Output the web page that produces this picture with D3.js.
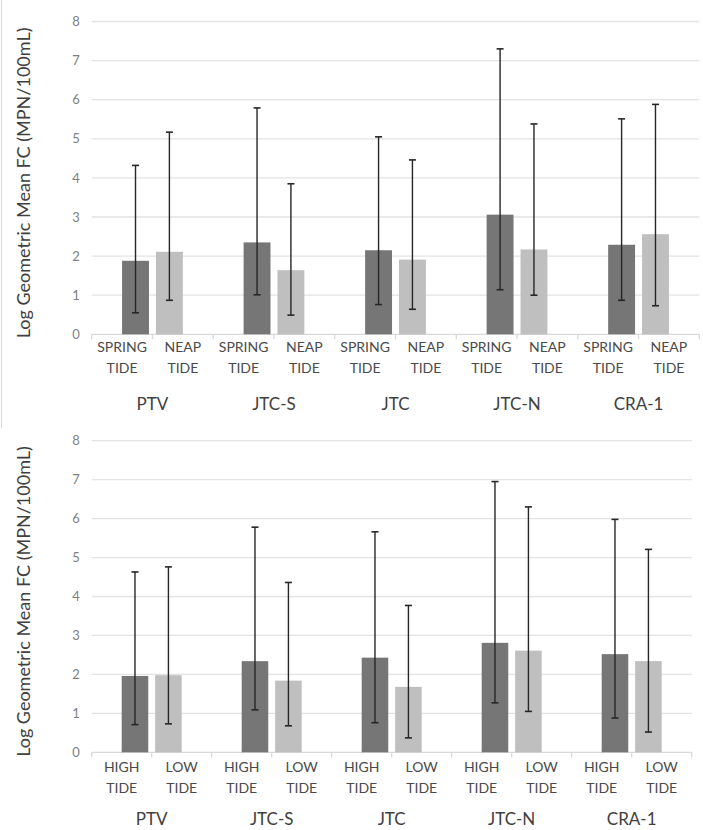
<!DOCTYPE html>
<html>
<head>
<meta charset="utf-8">
<script src="https://cdn.jsdelivr.net/npm/d3@7"></script>
<style>
  html, body { margin: 0; padding: 0; background: #fff; }
  svg { display: block; font-family: Lato, "Open Sans", sans-serif; }
</style>
</head>
<body>
<svg id="chart" width="703" height="830"></svg>
<script>
// ---------- data ----------
const sites = ["PTV", "JTC-S", "JTC", "JTC-N", "CRA-1"];
const yTicks = [0, 1, 2, 3, 4, 5, 6, 7, 8];
const yTitle = "Log Geometric Mean FC (MPN/100mL)";

// Top panel: spring vs neap tide
const topLabels = [["SPRING", "TIDE"], ["NEAP", "TIDE"]];
const springMean = [1.88, 2.35, 2.15, 3.06, 2.29];
const springLow  = [0.55, 1.01, 0.76, 1.14, 0.87];
const springHigh = [4.32, 5.79, 5.05, 7.30, 5.51];
const neapMean   = [2.11, 1.64, 1.91, 2.17, 2.56];
const neapLow    = [0.87, 0.49, 0.64, 1.00, 0.73];
const neapHigh   = [5.17, 3.85, 4.46, 5.38, 5.88];

// Bottom panel: high vs low tide
const botLabels = [["HIGH", "TIDE"], ["LOW", "TIDE"]];
const highMean = [1.96, 2.34, 2.43, 2.81, 2.52];
const highLow  = [0.71, 1.09, 0.76, 1.27, 0.88];
const highHigh = [4.63, 5.78, 5.66, 6.95, 5.98];
const lowMean  = [1.98, 1.84, 1.68, 2.61, 2.34];
const lowLow   = [0.73, 0.68, 0.37, 1.05, 0.52];
const lowHigh  = [4.76, 4.36, 3.77, 6.30, 5.21];

// ---------- drawing ----------
const svg = d3.select("#chart");
svg.append("rect").attr("width", 703).attr("height", 830).attr("fill", "#fff");

// frame edge of top panel
svg.append("line").attr("x1", 1.5).attr("x2", 1.5).attr("y1", 0).attr("y2", 428)
  .attr("stroke", "#d9d9d9").attr("stroke-width", 1);

const DARK = "#767676", LIGHT = "#bfbfbf";

function panel(cfg) {
  const g = svg.append("g");
  const y = d3.scaleLinear().domain([0, 8]).range([cfg.y0, cfg.y8]);
  const subcats = [];
  sites.forEach((s, i) => { subcats.push(s + "|0"); subcats.push(s + "|1"); });
  const x = d3.scaleBand().domain(subcats).range([cfg.x0, cfg.x1]).paddingInner(0).paddingOuter(0);
  const slot = d3.scaleBand().domain(["a", "b"]).range([0, x.bandwidth()]).paddingInner(0).paddingOuter(0.13);

  // gridlines
  g.selectAll(".grid").data(yTicks.filter(t => t > 0)).join("line")
    .attr("x1", cfg.x0).attr("x2", cfg.x1)
    .attr("y1", d => y(d)).attr("y2", d => y(d))
    .attr("stroke", "#e3e3e3").attr("stroke-width", 1.3);

  // y axis labels
  const ax = g.append("g").attr("transform", `translate(${cfg.x0 - 12},0)`)
    .call(d3.axisLeft(y).tickValues(yTicks).tickSize(0).tickPadding(0).tickFormat(d3.format("d")));
  ax.select(".domain").remove();
  ax.selectAll("text").attr("fill", "#808080").style("font-size", "13px")
    .style("font-family", "Lato, 'Open Sans', sans-serif");

  // baseline
  g.append("line").attr("x1", cfg.x0).attr("x2", cfg.x1).attr("y1", y(0)).attr("y2", y(0))
    .attr("stroke", "#d9d9d9").attr("stroke-width", 1.3);
  // category tick marks
  const bounds = subcats.map(c => x(c)).concat([cfg.x1]);
  g.selectAll(".tk").data(bounds).join("line")
    .attr("x1", d => d).attr("x2", d => d).attr("y1", y(0)).attr("y2", y(0) + 5)
    .attr("stroke", "#d9d9d9").attr("stroke-width", 1.3);

  // bars: dark series in first subcategory (slot b), light series in second (slot a)
  const rows = [];
  sites.forEach((s, i) => {
    rows.push({ cat: s + "|0", slot: "b", v: cfg.darkMean[i], lo: cfg.darkLow[i], hi: cfg.darkHigh[i], fill: DARK });
    rows.push({ cat: s + "|1", slot: "a", v: cfg.lightMean[i], lo: cfg.lightLow[i], hi: cfg.lightHigh[i], fill: LIGHT });
  });
  g.selectAll(".bar").data(rows).join("rect")
    .attr("x", d => x(d.cat) + slot(d.slot))
    .attr("width", slot.bandwidth())
    .attr("y", d => y(d.v))
    .attr("height", d => y(0) - y(d.v))
    .attr("fill", d => d.fill);

  // error bars
  const eb = g.selectAll(".eb").data(rows).join("g")
    .attr("transform", d => `translate(${x(d.cat) + slot(d.slot) + slot.bandwidth() / 2},0)`);
  eb.append("line").attr("y1", d => y(d.lo)).attr("y2", d => y(d.hi))
    .attr("stroke", "#262626").attr("stroke-width", 1.4);
  eb.append("line").attr("x1", -3.5).attr("x2", 3.5).attr("y1", d => y(d.hi)).attr("y2", d => y(d.hi))
    .attr("stroke", "#262626").attr("stroke-width", 1.6);
  eb.append("line").attr("x1", -3.5).attr("x2", 3.5).attr("y1", d => y(d.lo)).attr("y2", d => y(d.lo))
    .attr("stroke", "#262626").attr("stroke-width", 1.6);

  // subcategory labels (two lines)
  const lab = g.selectAll(".sub").data(subcats).join("text")
    .attr("text-anchor", "middle")
    .attr("fill", "#4a4a4a").style("font-size", "14px");
  lab.each(function (c) {
    const idx = +c.split("|")[1];
    const lines = cfg.labels[idx];
    const t = d3.select(this);
    const cx = x(c) + x.bandwidth() / 2;
    t.append("tspan").attr("x", cx).attr("y", cfg.lab1).text(lines[0]);
    t.append("tspan").attr("x", cx).attr("y", cfg.lab2).text(lines[1]);
  });

  // site labels
  g.selectAll(".site").data(sites).join("text")
    .attr("x", s => x(s + "|1"))
    .attr("y", cfg.siteY)
    .attr("text-anchor", "middle")
    .attr("fill", "#404040").style("font-size", "17px")
    .text(s => s);

  // y title
  const cy = (cfg.y0 + cfg.y8) / 2 + 5;
  g.append("text")
    .attr("transform", `translate(30,${cy}) rotate(-90)`)
    .attr("text-anchor", "middle")
    .attr("fill", "#404040").style("font-size", "18px")
    .text(yTitle);
}

panel({
  y0: 334.3, y8: 21.5, x0: 91.7, x1: 699.3,
  darkMean: springMean, darkLow: springLow, darkHigh: springHigh,
  lightMean: neapMean, lightLow: neapLow, lightHigh: neapHigh,
  labels: topLabels, lab1: 352, lab2: 372.5, siteY: 410
});

panel({
  y0: 752.3, y8: 440.7, x0: 91.7, x1: 691.7,
  darkMean: highMean, darkLow: highLow, darkHigh: highHigh,
  lightMean: lowMean, lightLow: lowLow, lightHigh: lowHigh,
  labels: botLabels, lab1: 772, lab2: 792.7, siteY: 825
});
</script>
</body>
</html>
